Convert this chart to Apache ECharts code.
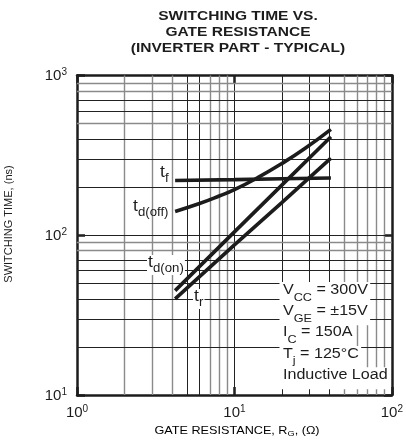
<!DOCTYPE html>
<html>
<head>
<meta charset="utf-8">
<script src="https://cdn.jsdelivr.net/npm/echarts@6/dist/echarts.min.js"></script>
<style>html,body{margin:0;padding:0;background:#fff}#c{width:406px;height:446px}</style>
</head>
<body>
<div id="c"></div>
<script>
// ---- data ----
const xGridValues = [2,3,4,5,6,7,8,9,10,20,30,40,50,60,70,80,90];
const xGridDark = [5,6,10,20,30,40];
const yGridValues = [20,30,40,50,60,70,80,90,100,200,300,400,500,600,700,800,900];
const yGridDark = [20,30,40,50,60,70,100,200,300,400,600,700];

const rgTf = [4.2, 10, 20, 41];
const tf = [220, 223, 226, 228];
const rgTdOff = [4.2, 6, 8, 10, 14, 20, 28, 41];
const tdOff = [141, 158, 176, 193, 229, 281, 349, 460];
const rgTdOn = [4.2, 10, 20, 41];
const tdOn = [45, 105, 206, 414];
const rgTr = [4.2, 10, 20, 41];
const tr = [40, 87, 160, 304];

const titleLines = ['SWITCHING TIME VS.', 'GATE RESISTANCE', '(INVERTER PART - TYPICAL)'];
const conditions = [
  ['V', 'CC', ' = 300V'],
  ['V', 'GE', ' = \u00b115V'],
  ['I', 'C', ' = 150A'],
  ['T', 'j', ' = 125\u00b0C'],
  ['Inductive Load', '', '']
];

// ---- chart ----
const FONT = '"Liberation Sans", Arial, Helvetica, sans-serif';
const INK = '#1c1c1c';
const chart = echarts.init(document.getElementById('c'), null, {renderer: 'canvas'});
const pair = (xs, ys) => xs.map((x, i) => [x, ys[i]]);

const darkLine = {color: '#222', width: 1, type: 'solid'};
const grayLine = {color: '#8a8a8a', width: 1.4, type: 'solid'};
const gridLines = []
  .concat(xGridValues.map(v => ({xAxis: v, lineStyle: xGridDark.includes(v) ? darkLine : grayLine})))
  .concat(yGridValues.map(v => ({yAxis: v, lineStyle: yGridDark.includes(v) ? darkLine : grayLine})));

const expRich = {
  b: {fontSize: 15, fontFamily: FONT, color: INK, lineHeight: 16, verticalAlign: 'bottom'},
  s: {fontSize: 10, fontFamily: FONT, color: INK, lineHeight: 10, verticalAlign: 'top'}
};
const expFmt = v => '{b|10}{s|' + Math.round(Math.log10(v)) + '}';

function baseX(pos, labels) {
  return {type: 'log', logBase: 10, min: 1, max: 100, position: pos,
    axisLine: {show: true, onZero: false, lineStyle: {color: INK, width: 2.5}},
    axisTick: {show: true, inside: true, length: 8, lineStyle: {color: INK, width: 2.5}},
    splitLine: {show: false}, minorTick: {show: false},
    axisLabel: labels ? {show: true, margin: 9, formatter: expFmt, rich: expRich} : {show: false}};
}
function baseY(pos, labels) {
  return {type: 'log', logBase: 10, min: 10, max: 1000, position: pos,
    axisLine: {show: true, onZero: false, lineStyle: {color: INK, width: 2.5}},
    axisTick: {show: true, inside: true, length: 8, lineStyle: {color: INK, width: 2.5}},
    splitLine: {show: false}, minorTick: {show: false},
    axisLabel: labels ? {show: true, margin: 10, formatter: expFmt, rich: expRich} : {show: false}};
}

const curve = (name, data, smooth) => ({
  name, type: 'line', data, showSymbol: false, smooth: smooth ? true : false,
  lineStyle: {color: INK, width: 3.6, cap: 'butt', type: 'solid'}, z: 5, silent: true
});

const textEl = (x, y, text, rich, extra) => Object.assign({
  type: 'text', x, y, z: 100, scaleX: 1.15,
  style: {text, rich, fill: INK, font: '14px ' + FONT, align: 'left', verticalAlign: 'top'}
}, extra || {});

const condRich = {
  m: {fontSize: 14, fontFamily: FONT, color: INK, lineHeight: 20, verticalAlign: 'top'},
  u: {fontSize: 11, fontFamily: FONT, color: INK, lineHeight: 11, verticalAlign: 'bottom'}
};
const condEls = conditions.map((c, i) => {
  const txt = c[1] ? '{m|' + c[0] + '}{u|' + c[1] + '}{m|' + c[2] + '}' : '{m|' + c[0] + '}';
  const el = textEl(279.5, 282 + i * 21.3, txt, condRich);
  el.style.backgroundColor = '#fff';
  el.style.padding = [1, 2, 1, 3];
  return el;
});

const tRich = {
  m: {fontSize: 16, fontFamily: FONT, color: INK, lineHeight: 20, verticalAlign: 'top'},
  u: {fontSize: 12, fontFamily: FONT, color: INK, lineHeight: 12, verticalAlign: 'bottom'}
};
const lbl = (x, y, sub, bg) => {
  const el = textEl(x, y, '{m|t}{u|' + sub + '}', tRich, {scaleX: 1.1});
  if (bg) { el.style.backgroundColor = '#fff'; el.style.padding = [0, 1, 0, 1]; }
  return el;
};

chart.setOption({
  animation: false,
  backgroundColor: '#fff',
  grid: {left: 77, right: 8, top: 75.5, bottom: 51, show: false},
  xAxis: [baseX('bottom', true), baseX('top', false)],
  yAxis: [baseY('left', true), baseY('right', false)],
  series: [
    {type: 'line', data: [], silent: true, z: 1,
      markLine: {silent: true, symbol: 'none', animation: false, label: {show: false},
        lineStyle: {type: 'solid'}, data: gridLines}},
    curve('tf', pair(rgTf, tf)),
    curve('td(off)', pair(rgTdOff, tdOff), true),
    curve('td(on)', pair(rgTdOn, tdOn)),
    curve('tr', pair(rgTr, tr))
  ],
  graphic: [
    {type: 'text', x: 238, y: 8.5, z: 100, scaleX: 1.15,
      style: {text: titleLines.join('\n'), fill: INK, font: 'bold 13.5px ' + FONT, align: 'center', verticalAlign: 'top', lineHeight: 15.8}},
    {type: 'text', x: 237, y: 425, z: 100, scaleX: 1.15,
      style: {text: '{a|GATE RESISTANCE, R}{b|G}{a|, (\u03a9)}', align: 'center', verticalAlign: 'top',
        rich: {a: {fontSize: 11, fontFamily: FONT, color: INK, lineHeight: 13, verticalAlign: 'top'},
               b: {fontSize: 8, fontFamily: FONT, color: INK, lineHeight: 8, verticalAlign: 'bottom'}}}},
    {type: 'text', x: 3, y: 224, z: 100, rotation: Math.PI / 2,
      style: {text: 'SWITCHING TIME, (ns)', fill: INK, font: '11px ' + FONT, align: 'center', verticalAlign: 'top'}},
    lbl(160, 165, 'f', false),
    lbl(133, 199, 'd(off)', false),
    lbl(147, 255, 'd(on)', true),
    lbl(193, 289, 'r', true)
  ].concat(condEls)
});
</script>
</body>
</html>
